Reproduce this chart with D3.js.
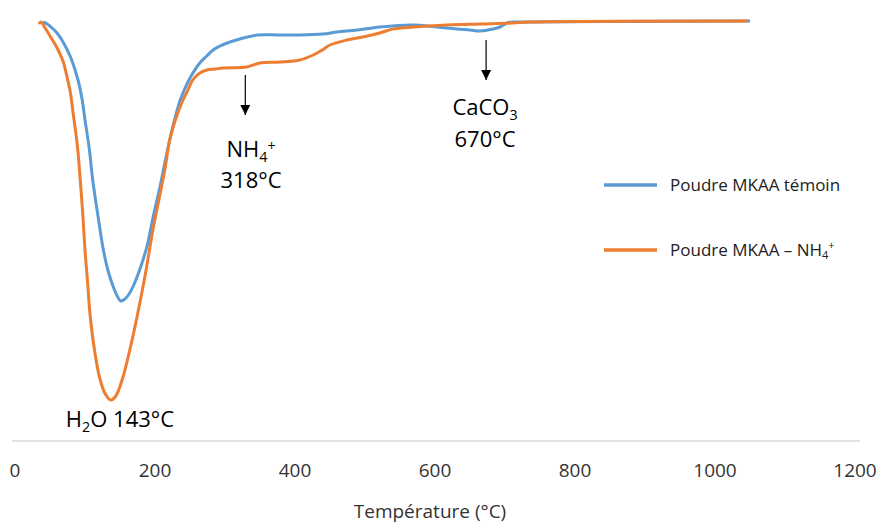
<!DOCTYPE html>
<html>
<head>
<meta charset="utf-8">
<script src="https://cdn.jsdelivr.net/npm/d3@7"></script>
<style>
  html, body { margin: 0; padding: 0; background: #fff; }
  svg { display: block; font-family: "Open Sans", sans-serif; }
</style>
</head>
<body>
<svg id="chart" width="880" height="523"></svg>
<script>
// ---- Data ----
const seriesNames = ["Poudre MKAA témoin", "Poudre MKAA – NH4+"];

const tempTemoin = [40, 46, 53, 60, 67, 74, 81, 90, 96, 100, 106, 111, 119, 126, 133, 140, 146, 151, 157, 163, 169, 179, 189, 197, 207, 214, 221, 229, 236, 243, 250, 264, 274, 283, 293, 303, 321, 346, 379, 407, 440, 460, 489, 521, 569, 603, 631, 650, 664, 683, 693, 703, 714, 736, 836, 1050];
const valTemoin  = [-0.01, -0.03, -0.07, -0.12, -0.19, -0.28, -0.39, -0.59, -0.79, -0.99, -1.27, -1.59, -1.97, -2.28, -2.50, -2.65, -2.75, -2.80, -2.78, -2.73, -2.65, -2.47, -2.24, -1.97, -1.66, -1.42, -1.19, -0.96, -0.79, -0.67, -0.57, -0.42, -0.35, -0.29, -0.25, -0.22, -0.18, -0.14, -0.14, -0.14, -0.13, -0.11, -0.09, -0.06, -0.04, -0.06, -0.08, -0.09, -0.10, -0.08, -0.06, -0.02, -0.01, -0.01, -0.005, 0];

const tempNH4 = [34, 37, 43, 50, 57, 63, 69, 74, 79, 83, 89, 93, 97, 100, 104, 107, 114, 121, 129, 137, 144, 153, 164, 174, 186, 197, 207, 214, 221, 230, 240, 247, 254, 264, 274, 286, 297, 331, 350, 379, 407, 426, 439, 450, 474, 497, 521, 540, 569, 617, 664, 711, 736, 1046];
const valNH4  = [-0.03, -0.01, -0.07, -0.15, -0.23, -0.31, -0.41, -0.55, -0.71, -0.92, -1.24, -1.57, -1.95, -2.29, -2.64, -2.92, -3.31, -3.57, -3.73, -3.79, -3.75, -3.59, -3.29, -2.97, -2.54, -2.09, -1.74, -1.49, -1.19, -0.97, -0.79, -0.69, -0.59, -0.52, -0.49, -0.48, -0.47, -0.46, -0.42, -0.41, -0.39, -0.34, -0.29, -0.24, -0.19, -0.16, -0.12, -0.08, -0.06, -0.04, -0.03, -0.02, -0.01, 0];

const xTicks = [0, 200, 400, 600, 800, 1000, 1200];

// annotations: temperature of the arrow, top & tip values (signal units)
const arrowTemps = [329, 673];
const arrowTop   = [-0.54, -0.19];
const arrowTip   = [-0.94, -0.59];

const colors = ["#5B9BD5", "#ED7D31"];

// ---- Chart ----
const svg = d3.select("#chart");
const x = d3.scaleLinear().domain([0, 1200]).range([15, 855]);
const y = d3.scaleLinear().domain([-4.2, 0]).range([441, 21]);

// axis line
svg.append("line")
  .attr("x1", x(0) - 3).attr("x2", x(1200) + 5)
  .attr("y1", y(-4.2)).attr("y2", y(-4.2))
  .attr("stroke", "#d9d9d9").attr("stroke-width", 1.3);

// tick labels
svg.append("g").selectAll("text").data(xTicks).join("text")
  .attr("x", d => x(d)).attr("y", 477)
  .attr("text-anchor", "middle")
  .attr("font-size", 19).attr("fill", "#333")
  .text(d => d);

// axis title
svg.append("text")
  .attr("x", 430).attr("y", 518)
  .attr("text-anchor", "middle")
  .attr("font-size", 19).attr("fill", "#333")
  .text("Température (°C)");

// lines
const line = d3.line().x(d => x(d[0])).y(d => y(d[1])).curve(d3.curveCatmullRom.alpha(0.5));
const dataTemoin = tempTemoin.map((t, i) => [t, valTemoin[i]]);
const dataNH4 = tempNH4.map((t, i) => [t, valNH4[i]]);

svg.append("path").datum(dataTemoin)
  .attr("d", line).attr("fill", "none")
  .attr("stroke", colors[0]).attr("stroke-width", 3).attr("stroke-linejoin", "round");
svg.append("path").datum(dataNH4)
  .attr("d", line).attr("fill", "none")
  .attr("stroke", colors[1]).attr("stroke-width", 3).attr("stroke-linejoin", "round");

// arrows
const defs = svg.append("defs");
defs.append("marker").attr("id", "ah")
  .attr("viewBox", "0 0 10 10").attr("refX", 10).attr("refY", 5)
  .attr("markerWidth", 10).attr("markerHeight", 10)
  .attr("markerUnits", "userSpaceOnUse")
  .attr("orient", "auto")
  .append("path").attr("d", "M0,0 L10,5 L0,10 Z").attr("fill", "#000");

arrowTemps.forEach((t, i) => {
  svg.append("line")
    .attr("x1", x(t)).attr("x2", x(t))
    .attr("y1", y(arrowTop[i])).attr("y2", y(arrowTip[i]))
    .attr("stroke", "#000").attr("stroke-width", 1.2)
    .attr("marker-end", "url(#ah)");
});

// annotation text helper
function label(xc, yb, parts, size) {
  const t = svg.append("text")
    .attr("x", xc).attr("y", yb)
    .attr("text-anchor", "middle")
    .attr("font-size", size).attr("fill", "#000");
  parts.forEach(p => {
    const s = t.append("tspan").text(p.t);
    if (p.sub) s.attr("font-size", size * 0.65).attr("dy", size * 0.22);
    if (p.sup) s.attr("font-size", size * 0.65).attr("dy", -size * 0.5);
    if (p.dy) s.attr("dy", p.dy);
  });
  return t;
}

const fs = 22;
label(120, 427, [{t: "H"}, {t: "2", sub: true}, {t: "O 143°C", dy: -fs * 0.22}], fs);
label(251, 157, [{t: "NH"}, {t: "4", sub: true}, {t: "+", sup: true}], fs);
label(251, 188, [{t: "318°C"}], fs);
label(485, 115, [{t: "CaCO"}, {t: "3", sub: true}], fs);
label(485, 147, [{t: "670°C"}], fs);

// legend
const legY = [185, 250];
legY.forEach((ly, i) => {
  svg.append("line")
    .attr("x1", 604).attr("x2", 657).attr("y1", ly).attr("y2", ly)
    .attr("stroke", colors[i]).attr("stroke-width", 3.5);
});
svg.append("text").attr("x", 670).attr("y", legY[0] + 6)
  .attr("font-size", 17).attr("fill", "#222")
  .text(seriesNames[0]);
const lt = svg.append("text").attr("x", 670).attr("y", legY[1] + 6)
  .attr("font-size", 17).attr("fill", "#222");
lt.append("tspan").text("Poudre MKAA – NH");
lt.append("tspan").text("4").attr("font-size", 11).attr("dy", 3);
lt.append("tspan").text("+").attr("font-size", 11).attr("dy", -10);
</script>
</body>
</html>
